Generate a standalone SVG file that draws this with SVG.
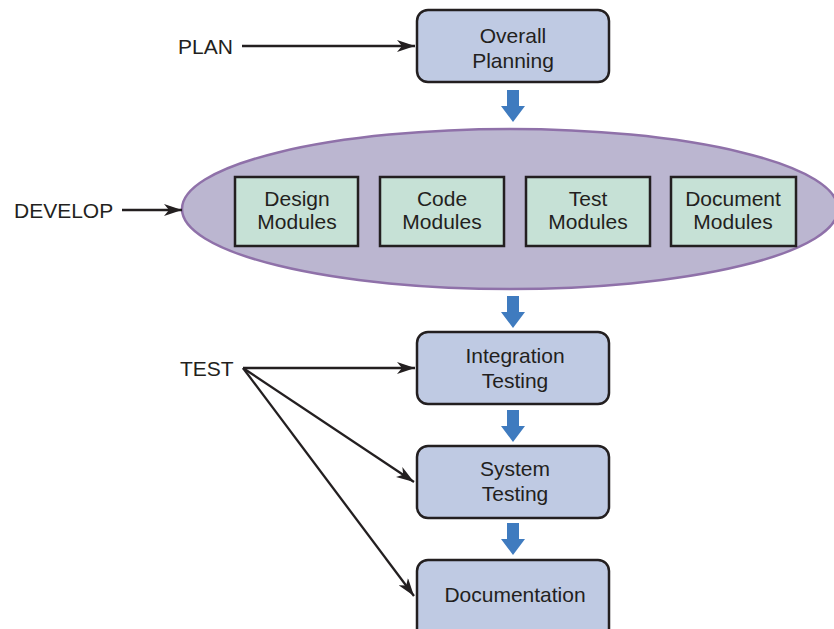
<svg xmlns="http://www.w3.org/2000/svg" width="834" height="629" viewBox="0 0 834 629">
<defs>
<style>
text{font-family:"Liberation Sans",Arial,sans-serif;font-size:21px;fill:#231f20;text-anchor:middle}
.lbl{text-anchor:start}
.step{fill:#bfcae3;stroke:#231f20;stroke-width:2.5}
.mod{fill:#c6e1d6;stroke:#231f20;stroke-width:2.5}
.con{stroke:#231f20;stroke-width:2.3;fill:none}
.flow{fill:#3f7bbf}
</style>
<marker id="ah" markerWidth="20" markerHeight="12" refX="18" refY="6" orient="auto" markerUnits="userSpaceOnUse">
<path d="M0,0 L18,6 L0,12 L5,6 Z" fill="#231f20"/>
</marker>
<path id="bar" d="M-6,0 H6 V16 H12 L0,32 L-12,16 H-6 Z"/>
</defs>
<rect width="834" height="629" fill="#fff"/>

<g id="develop-phase">
<ellipse cx="510" cy="209" rx="328" ry="80" fill="#bbb6d0" stroke="#8f71a9" stroke-width="2.5"/>
</g>

<g id="overall-planning">
<rect class="step" x="417" y="10" width="192" height="72" rx="11"/>
<text x="513" y="43">Overall</text>
<text x="513" y="68">Planning</text>
</g>

<g id="design-modules">
<rect class="mod" x="235" y="177" width="123" height="69"/>
<text x="297" y="206">Design</text>
<text x="297" y="229">Modules</text>
</g>
<g id="code-modules">
<rect class="mod" x="380" y="177" width="124" height="69"/>
<text x="442" y="206">Code</text>
<text x="442" y="229">Modules</text>
</g>
<g id="test-modules">
<rect class="mod" x="526" y="177" width="124" height="69"/>
<text x="588" y="206">Test</text>
<text x="588" y="229">Modules</text>
</g>
<g id="document-modules">
<rect class="mod" x="671" y="177" width="125" height="69"/>
<text x="733" y="206">Document</text>
<text x="733" y="229">Modules</text>
</g>

<g id="integration-testing">
<rect class="step" x="417" y="332" width="192" height="72" rx="11"/>
<text x="515" y="363">Integration</text>
<text x="515" y="388">Testing</text>
</g>
<g id="system-testing">
<rect class="step" x="417" y="446" width="192" height="72" rx="11"/>
<text x="515" y="476">System</text>
<text x="515" y="501">Testing</text>
</g>
<g id="documentation">
<rect class="step" x="417" y="560" width="192" height="80" rx="11"/>
<text x="515" y="602">Documentation</text>
</g>

<g id="labels">
<text class="lbl" x="178" y="54">PLAN</text>
<text class="lbl" x="14" y="218">DEVELOP</text>
<text class="lbl" x="180" y="376">TEST</text>
</g>

<g id="connectors">
<line class="con" x1="242" y1="46" x2="415" y2="46" marker-end="url(#ah)"/>
<line class="con" x1="122" y1="210" x2="182" y2="210" marker-end="url(#ah)"/>
<line class="con" x1="243" y1="368" x2="415" y2="368" marker-end="url(#ah)"/>
<line class="con" x1="243" y1="368" x2="414" y2="482" marker-end="url(#ah)"/>
<line class="con" x1="243" y1="368" x2="414" y2="596" marker-end="url(#ah)"/>
<use href="#bar" class="flow" x="513" y="90"/>
<use href="#bar" class="flow" x="513" y="296"/>
<use href="#bar" class="flow" x="513" y="410"/>
<use href="#bar" class="flow" x="513" y="523"/>
</g>
</svg>
